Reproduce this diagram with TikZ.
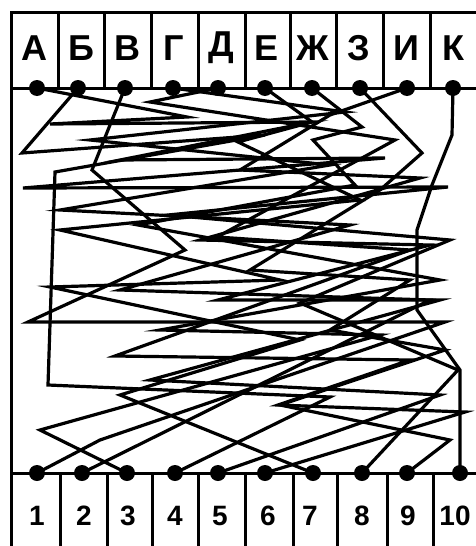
\documentclass[tikz,border=0pt]{standalone}
\usepackage{fontspec}
\setmainfont{Liberation Sans}
\begin{document}
\begin{tikzpicture}[x=1pt,y=-1pt,
  frame/.style={line width=3pt,line cap=rect},
  wire/.style={line width=3.2pt,line join=miter,miter limit=12},
  pin/.style={circle,fill=black,minimum size=16pt,inner sep=0pt},
  lettr/.style={font=\bfseries\fontsize{36}{36}\selectfont,inner sep=0pt},
  numb/.style={font=\bfseries\fontsize{28}{28}\selectfont,inner sep=0pt}]
\useasboundingbox (0,0) rectangle (475,546);
% frame
\draw[frame] (11,546) -- (11,12) -- (475,12);
\draw[frame] (11,88) -- (475,88);
\draw[frame] (11,473) -- (475,473);
\foreach \x in {58,104,151,198,245,290,336,383,430} \draw[frame] (\x,12) -- (\x,88);
\foreach \x in {60,107,152,198,245,293,337,387,433} \draw[frame] (\x,473) -- (\x,546);
% labels
\foreach \x/\t/\n in {34/А/lA,81/Б/lB,127/В/lV,174/Г/lG,221/Д/lD,267/Е/lE,313/Ж/lZh,359/З/lZ,406/И/lI,453/К/lK}
  \node[lettr] (\n) at (\x,48) {\t};
\foreach \x/\t in {37/1,84/2,128/3,175/4,220/5,268/6,310/7,362/8,408/9,455/10}
  \node[numb] (n\t) at (\x,516) {\t};
% pins
\foreach \x/\n in {37/1,78/2,125/3,173/4,218/5,265/6,312/7,360/8,407/9,453/10}
  \node[pin] (t\n) at (\x,88) {};
\foreach \x/\n in {37/1,82/2,127/3,175/4,218/5,265/6,313/7,362/8,407/9,460/10}
  \node[pin] (b\n) at (\x,473) {};
% wires
\draw[wire] (t1.center) -- (187,117) -- (50,124) -- (312,122) -- (120,160) -- (385,158) -- (23,188) -- (448,187) -- (168,215) -- (450,240) -- (300,303) -- (458,370) -- (b8.center);
\draw[wire] (t2.center) -- (22,153) -- (265,135) -- (55,172) -- (48,385) -- (330,397) -- (b4.center);
\draw[wire] (t3.center) -- (110,125) -- (92,170) -- (185,250) -- (28,322) -- (445,322) -- (100,440) -- (b1.center);
\draw[wire] (t4.center) -- (345,112) -- (90,140) -- (330,165) -- (60,210) -- (350,225) -- (120,290) -- (430,300) -- (b2.center);
\draw[wire] (t5.center) -- (150,102) -- (395,140) -- (217,237) -- (410,250) -- (115,356) -- (410,360) -- (278,405) -- (465,412) -- (b6.center);
\draw[wire] (t6.center) -- (312,122) -- (238,142) -- (360,200) -- (60,230) -- (280,280) -- (50,287) -- (300,340) -- (120,395) -- (b7.center);
\draw[wire] (t7.center) -- (362,127) -- (313,140) -- (355,185) -- (138,225) -- (440,280) -- (160,330) -- (380,335) -- (40,430) -- (b3.center);
\draw[wire] (t8.center) -- (422,153) -- (380,190) -- (250,270) -- (410,280) -- (330,330) -- (445,350) -- (280,405) -- (450,440) -- (b9.center);
\draw[wire] (t9.center) -- (330,115) -- (240,170) -- (420,178) -- (200,240) -- (430,245) -- (218,300) -- (440,300) -- (150,380) -- (440,395) -- (b5.center);
\draw[wire] (t10.center) -- (452,135) -- (432,185) -- (417,230) -- (417,310) -- (460,370) -- (b10.center);
\end{tikzpicture}
\end{document}
